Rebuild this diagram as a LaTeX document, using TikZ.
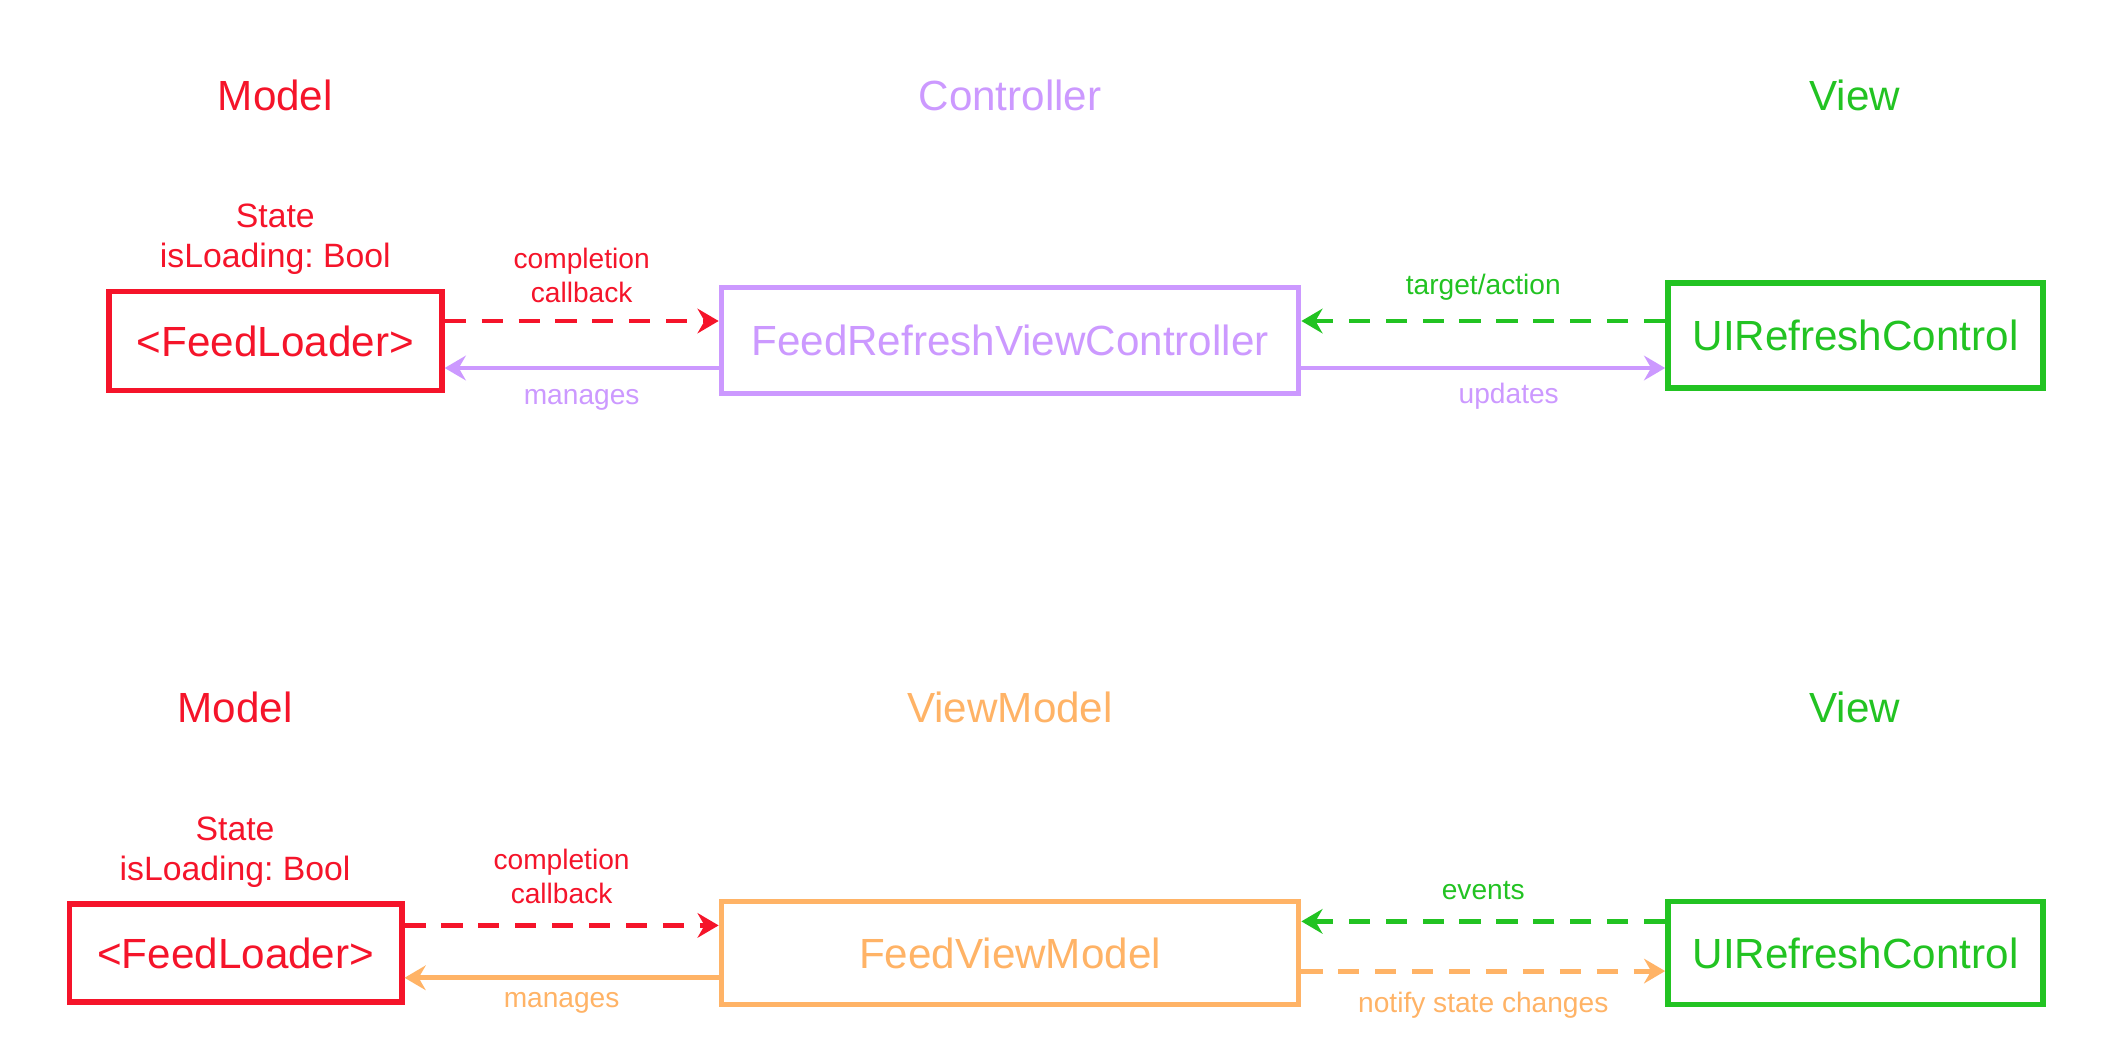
\documentclass[tikz,border=0pt]{standalone}
\usepackage{fontspec}
\setmainfont{Liberation Sans}
\frenchspacing
\usetikzlibrary{arrows.meta, positioning, calc}

\definecolor{modelred}{HTML}{F5142A}
\definecolor{ctrlpurple}{HTML}{CC99FF}
\definecolor{viewgreen}{HTML}{22C322}
\definecolor{vmorange}{HTML}{FFB366}

\tikzset{
	box/.style={draw, line width=1.6pt, font=\fontsize{12}{14}\selectfont, inner sep=0pt},
	heading/.style={font=\fontsize{12}{14}\selectfont},
	statelbl/.style={font=\fontsize{9.6}{11.4}\selectfont, align=center},
	lbl/.style={font=\fontsize{8}{9.5}\selectfont, align=center},
	link/.style={line width=1.4pt, -{Stealth[length=6pt,width=7pt,inset=2pt]}},
	dlink/.style={link, dash pattern=on 6pt off 4.5pt},
}

\begin{document}
\begin{tikzpicture}[x=0.01343cm, y=-0.01343cm]
	\useasboundingbox[fill=white] (0,0) rectangle (1568,788);
	% column headings
	\foreach \name/\txt/\col/\x/\y in {
		hdModel/Model/modelred/205/71,
		hdCtrl/Controller/ctrlpurple/752/71,
		hdView/View/viewgreen/1381/71,
		hdModelB/Model/modelred/175/527,
		hdVM/ViewModel/vmorange/752/527,
		hdViewB/View/viewgreen/1381/527}{
		\node[heading, text=\col] (\name) at (\x,\y) {\txt};
	}

	% MVC
	\node[statelbl, modelred] (state) at (205,178) {State\\isLoading: Bool};
	\node[box, modelred, minimum width=3.33cm, minimum height=0.99cm] (loader) at (205,254) {<FeedLoader>};
	\node[box, ctrlpurple, minimum width=5.77cm, minimum height=1.06cm] (ctrl) at (752,253.5) {FeedRefreshViewController};
	\node[box, viewgreen, minimum width=3.75cm, minimum height=1.05cm] (refresh) at (1381.5,250) {UIRefreshControl};

	\draw[dlink, modelred] (loader.east |- 0,239) -- (ctrl.west |- 0,239)
		node[lbl, midway, yshift=13pt] (cbA) {completion\\callback};
	\draw[link, ctrlpurple] (ctrl.west |- 0,274) -- (loader.east |- 0,274)
		node[lbl, midway, yshift=-9pt] (manA) {manages};
	\draw[dlink, viewgreen] (refresh.west |- 0,239) -- (ctrl.east |- 0,239)
		node[lbl, midway, yshift=9.5pt] (target) {target/action};
	\draw[link, ctrlpurple] (ctrl.east |- 0,274) -- (refresh.west |- 0,274)
		node[lbl, pos=0.57, yshift=-8pt] (upd) {updates};

	% MVVM
	\node[statelbl, modelred] (stateB) at (175,634.5) {State\\isLoading: Bool};
	\node[box, modelred, minimum width=3.32cm, minimum height=0.98cm] (loaderB) at (175.5,709.5) {<FeedLoader>};
	\node[box, vmorange, minimum width=5.77cm, minimum height=1.03cm] (vm) at (752,709.5) {FeedViewModel};
	\node[box, viewgreen, minimum width=3.75cm, minimum height=1.03cm] (refreshB) at (1381.5,709.5) {UIRefreshControl};

	\draw[dlink, modelred] (loaderB.east |- 0,689) -- (vm.west |- 0,689)
		node[lbl, midway, yshift=13.9pt] (cbB) {completion\\callback};
	\draw[link, vmorange] (vm.west |- 0,728) -- (loaderB.east |- 0,728)
		node[lbl, midway, yshift=-7pt] (manB) {manages};
	\draw[dlink, viewgreen] (refreshB.west |- 0,686) -- (vm.east |- 0,686)
		node[lbl, midway, yshift=8.8pt] (events) {events};
	\draw[dlink, vmorange] (vm.east |- 0,723) -- (refreshB.west |- 0,723)
		node[lbl, midway, yshift=-9.8pt] (notify) {notify state changes};
\end{tikzpicture}
\end{document}
